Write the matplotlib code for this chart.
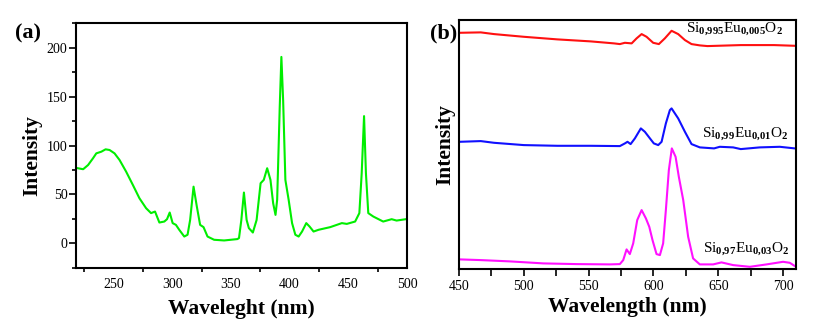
"""Excitation (a) and emission (b) spectra of Eu-doped SiO2"""

import numpy as np
import matplotlib
matplotlib.use('Agg')
import matplotlib.pyplot as plt
from matplotlib.ticker import MultipleLocator

plt.rcParams['font.family'] = 'serif'
plt.rcParams['font.serif'] = ['Liberation Serif', 'DejaVu Serif']
plt.rcParams['mathtext.fontset'] = 'custom'
plt.rcParams['mathtext.rm'] = 'Liberation Serif'
plt.rcParams['mathtext.bf'] = 'Liberation Serif:bold'

# (a) excitation spectrum
exc_nm = [219.7, 224.2, 228.4, 232.6, 235.4, 239.7, 243.3, 246.7, 250.9, 255.2,
          260.8, 266.5, 272.1, 277.8, 282.0, 285.4, 289.1, 293.3, 295.6, 297.9,
          300.4, 303.2, 306.0, 310.3, 313.1, 315.3, 318.2, 321.0, 323.8, 326.7,
          330.1, 335.7, 344.2, 349.9, 355.5, 356.9, 358.9, 361.1, 363.4, 365.3,
          368.7, 371.9, 375.3, 378.0, 380.9, 383.7, 386.0, 388.0, 389.4, 391.6,
          393.0, 394.5, 396.4, 399.2, 402.1, 404.9, 407.7, 410.6, 414.2, 417.0,
          420.4, 424.7, 434.6, 444.5, 448.7, 455.8, 459.4, 461.4, 463.4, 465.0,
          467.0, 471.3, 479.7, 486.9, 491.1, 499.0, 500.5]
exc_int = [76.8, 75.8, 80.1, 87.0, 92.0, 93.7, 96.1, 95.4, 92.0, 85.2,
           73.3, 59.8, 46.2, 36.0, 31.0, 32.6, 21.4, 22.4, 24.8, 31.6,
           20.8, 19.0, 14.0, 7.1, 8.9, 24.1, 58.0, 37.7, 19.0, 16.7,
           7.1, 3.8, 3.1, 3.8, 4.5, 5.5, 24.0, 52.0, 24.0, 15.7,
           11.2, 24.0, 61.5, 64.9, 76.8, 64.9, 41.0, 29.2, 44.5, 139.5,
           190.4, 146.0, 64.9, 44.5, 20.8, 8.9, 7.1, 12.2, 20.8, 17.3,
           12.2, 14.0, 16.7, 20.8, 20.0, 22.4, 31.0, 71.7, 130.0, 71.7,
           31.0, 27.5, 22.4, 24.8, 23.4, 24.8, 25.0]

# (b) emission spectra (stacked, arbitrary units)
em_nm_red = [450.8, 466.8, 477.0, 500.0, 525.9, 551.6, 569.6, 574.1, 578.0, 583.2,
             587.0, 590.9, 594.7, 599.8, 604.2, 608.8, 614.0, 619.1, 624.3, 629.4,
             635.8, 641.7, 667.4, 682.0, 693.1, 709.0, 710.0]
em_red = [236.3, 236.7, 235.0, 232.3, 229.7, 227.7, 225.7, 225.0, 226.3, 225.7,
          230.7, 235.0, 232.3, 226.3, 225.0, 230.7, 238.3, 235.0, 229.0, 225.0,
          223.7, 223.0, 224.0, 224.0, 224.0, 223.3, 223.3]

em_nm_blue = [450.8, 466.8, 477.0, 500.0, 525.9, 551.6, 574.1, 578.0, 580.0, 582.4,
              585.7, 590.3, 593.4, 597.3, 600.3, 603.7, 606.3, 609.6, 612.7, 614.0,
              619.1, 624.3, 629.4, 635.8, 646.8, 651.2, 661.5, 667.4, 682.0, 697.5,
              709.0, 710.0]
em_blue = [127.3, 128.0, 126.3, 124.0, 123.3, 123.3, 123.0, 125.7, 127.3, 125.0,
           130.7, 140.7, 137.3, 130.7, 125.7, 124.0, 127.3, 145.7, 159.0, 160.7,
           150.7, 137.3, 125.0, 121.7, 120.7, 122.3, 121.7, 120.0, 121.7, 122.3,
           120.7, 120.7]

em_nm_mag = [450.8, 466.8, 489.4, 515.1, 540.8, 566.5, 574.1, 576.7, 579.3, 581.8,
             584.4, 587.5, 590.9, 594.2, 596.8, 599.3, 602.4, 605.0, 607.5, 609.6,
             611.9, 614.2, 617.1, 619.6, 623.0, 626.8, 630.6, 635.8, 646.1, 652.5,
             661.5, 674.4, 687.3, 700.0, 705.2, 710.0]
em_mag = [9.7, 9.0, 7.7, 5.7, 5.0, 4.7, 5.0, 9.0, 19.7, 15.0,
          25.7, 49.0, 59.0, 50.7, 42.3, 29.0, 15.0, 14.0, 25.7, 59.0,
          99.0, 120.7, 112.3, 92.3, 69.0, 32.3, 10.7, 4.7, 4.7, 6.7,
          4.0, 2.3, 4.7, 7.3, 6.3, 2.3]

labels = [r'Si$_{\mathbf{0{,}995}}$Eu$_{\mathbf{0{,}005}}$O$_{\mathbf{2}}$',
          r'Si$_{\mathbf{0{,}99}}$Eu$_{\mathbf{0{,}01}}$O$_{\mathbf{2}}$',
          r'Si$_{\mathbf{0{,}97}}$Eu$_{\mathbf{0{,}03}}$O$_{\mathbf{2}}$']
label_pos = [(625.2, 236.7), (637.5, 132.0), (638.3, 17.0)]

fig = plt.figure(figsize=(8.17, 3.25), dpi=100)
ax1 = fig.add_axes([0.0936, 0.1754, 0.4046, 0.7538])
ax2 = fig.add_axes([0.5618, 0.172, 0.4125, 0.7662])

for ax in (ax1, ax2):
    for sp in ax.spines.values():
        sp.set_linewidth(1.5)

# panel (a)
ax1.plot(exc_nm, exc_int, color='#00ee00', lw=1.5)
ax1.set_xlim(218.5, 500)
ax1.set_ylim(-25, 225)
ax1.xaxis.set_major_locator(MultipleLocator(50))
ax1.xaxis.set_minor_locator(MultipleLocator(25))
ax1.yaxis.set_major_locator(MultipleLocator(50))
ax1.yaxis.set_minor_locator(MultipleLocator(25))
ax1.tick_params(axis='x', which='major', length=0, pad=7, labelsize=10)
ax1.tick_params(axis='x', which='minor', length=3, width=1.2)
ax1.tick_params(axis='y', which='major', length=5, width=1.2, pad=1.5, labelsize=10)
ax1.tick_params(axis='y', which='minor', length=3, width=1.2)
ax1.set_xlabel('Waveleght (nm)', fontsize=15.5, fontweight='bold', labelpad=6)
ax1.set_ylabel('Intensity', fontsize=15.5, fontweight='bold')
ax1.yaxis.set_label_coords(-0.102, 0.46)

# panel (b)
ax2.plot(em_nm_red, em_red, color='#ff1010', lw=1.5)
ax2.plot(em_nm_blue, em_blue, color='#1010ff', lw=1.5)
ax2.plot(em_nm_mag, em_mag, color='#ff10ff', lw=1.5)
ax2.set_xlim(450, 710)
ax2.set_ylim(0, 249)
ax2.xaxis.set_major_locator(MultipleLocator(50))
ax2.xaxis.set_minor_locator(MultipleLocator(25))
ax2.tick_params(axis='x', which='major', length=5, width=1.2, pad=3, labelsize=10)
ax2.tick_params(axis='x', which='minor', length=5, width=1.2)
ax2.set_yticks([])
ax2.set_xlabel('Wavelength (nm)', fontsize=15.5, fontweight='bold', labelpad=3)
ax2.set_ylabel('Intensity', fontsize=15.5, fontweight='bold', labelpad=3)
for lab, (x, y) in zip(labels, label_pos):
    ax2.text(x, y, lab, fontsize=11, va='baseline', ha='left')

fig.text(0.018, 0.897, '(a)', fontsize=16, fontweight='bold', va='center')
fig.text(0.526, 0.897, '(b)', fontsize=16, fontweight='bold', va='center')

fig.savefig('out.png', dpi=100)
